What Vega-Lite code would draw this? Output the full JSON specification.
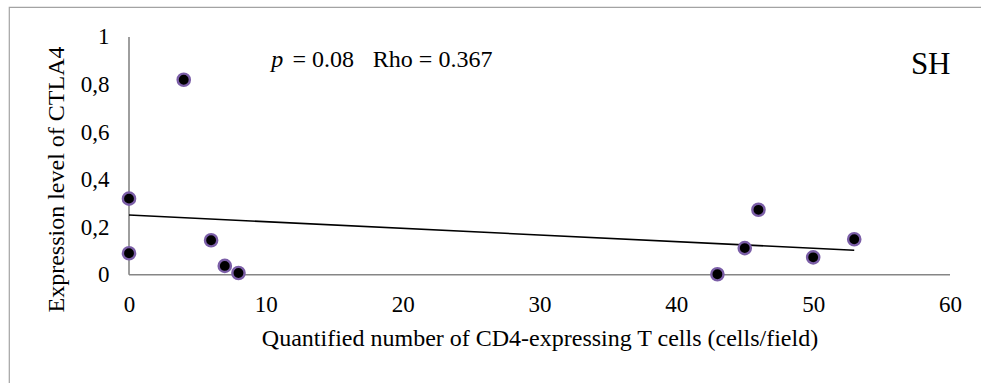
{
  "$schema": "https://vega.github.io/schema/vega-lite/v6.json",
  "width": 977,
  "height": 381,
  "autosize": {"type": "none"},
  "padding": {"left": 9, "top": 7, "right": -5, "bottom": -5},
  "background": "white",
  "config": {
    "view": {"stroke": "#a3a3a3", "strokeWidth": 1.2},
    "font": "Liberation Serif",
    "axis": {
      "grid": false,
      "ticks": false,
      "domain": false,
      "labelFont": "Liberation Serif",
      "labelColor": "#000000",
      "labelFontSize": 23,
      "titleFont": "Liberation Serif",
      "titleColor": "#000000",
      "titleFontWeight": "normal",
      "titleFontSize": 24
    }
  },
  "data": {
    "values": [
      {"cells": 0, "ctla4": 0.32},
      {"cells": 0, "ctla4": 0.09},
      {"cells": 4, "ctla4": 0.82},
      {"cells": 6, "ctla4": 0.145},
      {"cells": 7, "ctla4": 0.037},
      {"cells": 8, "ctla4": 0.007},
      {"cells": 43, "ctla4": 0.002},
      {"cells": 45, "ctla4": 0.112},
      {"cells": 46, "ctla4": 0.273},
      {"cells": 50, "ctla4": 0.073},
      {"cells": 53, "ctla4": 0.149}
    ]
  },
  "layer": [
    {
      "data": {"values": [{}]},
      "mark": {"type": "rule", "color": "#868686", "strokeWidth": 1.6},
      "encoding": {
        "x": {"datum": 0, "type": "quantitative", "scale": {"domain": [-8.77, 62.63], "nice": false, "zero": false}, "title": "Quantified number of CD4-expressing T cells (cells/field)"},
        "x2": {"datum": 60},
        "y": {"datum": 0, "type": "quantitative", "scale": {"domain": [-0.4767, 1.1262], "nice": false, "zero": false}, "title": "Expression level of CTLA4"}
      }
    },
    {
      "data": {"values": [{}]},
      "mark": {"type": "rule", "color": "#868686", "strokeWidth": 1.6},
      "encoding": {
        "x": {"datum": 0, "type": "quantitative", "title": "Quantified number of CD4-expressing T cells (cells/field)"},
        "y": {"datum": 0, "type": "quantitative", "title": "Expression level of CTLA4"},
        "y2": {"datum": 1}
      }
    },
    {
      "transform": [{"regression": "ctla4", "on": "cells"}],
      "mark": {"type": "line", "color": "#000000", "strokeWidth": 1.6},
      "encoding": {
        "x": {"field": "cells", "type": "quantitative", "title": "Quantified number of CD4-expressing T cells (cells/field)"},
        "y": {"field": "ctla4", "type": "quantitative", "title": "Expression level of CTLA4"}
      }
    },
    {
      "mark": {"type": "circle", "size": 150, "fill": "#000000", "stroke": "#7b5ea7", "strokeWidth": 2.4, "opacity": 1},
      "encoding": {
        "x": {
          "field": "cells",
          "type": "quantitative",
          "scale": {"domain": [-8.77, 62.63], "nice": false, "zero": false},
          "title": "Quantified number of CD4-expressing T cells (cells/field)",
          "axis": {
            "values": [0, 10, 20, 30, 40, 50, 60],
            "offset": -113,
            "labelPadding": 18,
            "titleX": 530.5,
            "titleY": 70.7,
            "titleBaseline": "alphabetic",
            "titleAlign": "center"
          }
        },
        "y": {
          "field": "ctla4",
          "type": "quantitative",
          "scale": {"domain": [-0.4767, 1.1262], "nice": false, "zero": false},
          "title": "Expression level of CTLA4",
          "axis": {
            "values": [0, 0.2, 0.4, 0.6, 0.8, 1],
            "offset": -120,
            "labelPadding": 20,
            "labelExpr": "datum.value == 0 || datum.value == 1 ? format(datum.value, 'd') : replace(format(datum.value, '.1f'), '.', ',')",
            "titleX": -65.4,
            "titleY": 172,
            "titleAngle": 270,
            "titleBaseline": "alphabetic",
            "titleAlign": "center"
          }
        }
      }
    },
    {
      "data": {"values": [{}]},
      "mark": {"type": "text", "text": "p", "fontStyle": "italic", "fontSize": 24, "align": "left", "baseline": "alphabetic", "color": "#000000"},
      "encoding": {
        "x": {"datum": 10.4, "type": "quantitative", "title": "Quantified number of CD4-expressing T cells (cells/field)"},
        "y": {"datum": 0.875, "type": "quantitative", "title": "Expression level of CTLA4"}
      }
    },
    {
      "data": {"values": [{}]},
      "mark": {"type": "text", "text": "= 0.08", "fontSize": 24, "align": "left", "baseline": "alphabetic", "color": "#000000"},
      "encoding": {
        "x": {"datum": 11.94, "type": "quantitative", "title": "Quantified number of CD4-expressing T cells (cells/field)"},
        "y": {"datum": 0.875, "type": "quantitative", "title": "Expression level of CTLA4"}
      }
    },
    {
      "data": {"values": [{}]},
      "mark": {"type": "text", "text": "Rho = 0.367", "fontSize": 24, "align": "left", "baseline": "alphabetic", "color": "#000000"},
      "encoding": {
        "x": {"datum": 17.82, "type": "quantitative", "title": "Quantified number of CD4-expressing T cells (cells/field)"},
        "y": {"datum": 0.875, "type": "quantitative", "title": "Expression level of CTLA4"}
      }
    },
    {
      "data": {"values": [{}]},
      "mark": {"type": "text", "text": "SH", "fontSize": 31, "align": "left", "baseline": "alphabetic", "color": "#000000"},
      "encoding": {
        "x": {"datum": 57.14, "type": "quantitative", "title": "Quantified number of CD4-expressing T cells (cells/field)"},
        "y": {"datum": 0.844, "type": "quantitative", "title": "Expression level of CTLA4"}
      }
    }
  ]
}
